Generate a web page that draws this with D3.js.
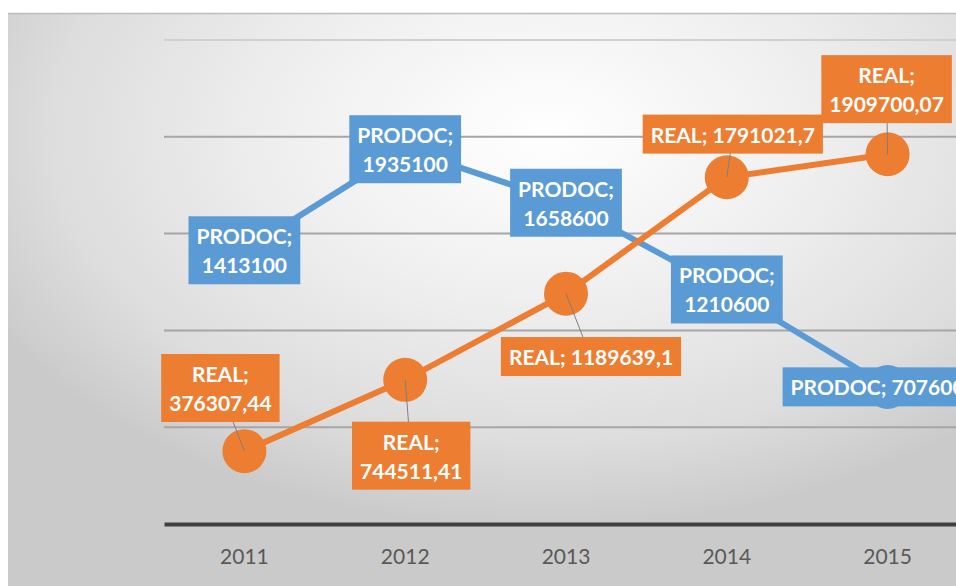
<!DOCTYPE html>
<html>
<head>
<meta charset="utf-8">
<script src="https://cdn.jsdelivr.net/npm/d3@7"></script>
<style>
  body { margin: 0; background: #fff; overflow: hidden; }
  svg { display: block; }
</style>
</head>
<body>
<div id="container"></div>
<script>
/* DATA */
const years = ["2011", "2012", "2013", "2014", "2015"];
const prodoc = [1413100, 1935100, 1658600, 1210600, 707600];
const real = [376307.44, 744511.41, 1189639.1, 1791021.7, 1909700.07];
const gridTicks = [0, 500000, 1000000, 1500000, 2000000, 2500000];

/* CONSTANTS AND GLOBALS */
const width = 956,
  height = 586;
const plot = { left: 164, right: 968, top: 40, bottom: 524 };
const BLUE = "#5B9BD5", ORANGE = "#ED7D31";

// label layout: offset of box centre from the point, and whether text wraps
const prodocLayout = [
  { dx: 0, dy: 1, wrap: true },
  { dx: 0, dy: 1, wrap: true },
  { dx: 0, dy: 1, wrap: true },
  { dx: 0, dy: 1, wrap: true },
  { dx: -10, dy: 1, wrap: false }
];
const realLayout = [
  { dx: -24, dy: -62, wrap: true },
  { dx: 6, dy: 77, wrap: true },
  { dx: 25, dy: 64, wrap: false },
  { dx: 6, dy: -42, wrap: false },
  { dx: -1, dy: -64, wrap: true }
];

const svg = d3.select("#container")
  .append("svg")
  .attr("width", width)
  .attr("height", height);

// BACKGROUND
const defs = svg.append("defs");
const grad = defs.append("radialGradient")
  .attr("id", "bg")
  .attr("cx", 0.56).attr("cy", 0.2).attr("r", 0.66);
grad.append("stop").attr("offset", 0).attr("stop-color", "#ffffff");
grad.append("stop").attr("offset", 0.42).attr("stop-color", "#efefef");
grad.append("stop").attr("offset", 0.78).attr("stop-color", "#dddddd");
grad.append("stop").attr("offset", 1).attr("stop-color", "#cacaca");

svg.append("rect")
  .attr("x", 8).attr("y", 13)
  .attr("width", 960).attr("height", 600)
  .attr("fill", "url(#bg)");
svg.append("line")
  .attr("x1", 8).attr("x2", 960)
  .attr("y1", 13.5).attr("y2", 13.5)
  .attr("stroke", "#bdbdbd").attr("stroke-width", 1.5);

// SCALES
const xScale = d3.scaleBand()
  .domain(years)
  .range([plot.left, plot.right]);
const xPos = d => xScale(d) + xScale.bandwidth() / 2;

const yScale = d3.scaleLinear()
  .domain([0, 2500000])
  .range([plot.bottom, plot.top]);

// GRIDLINES
svg.append("g")
  .selectAll("line")
  .data(gridTicks.slice(1))
  .join("line")
  .attr("x1", plot.left).attr("x2", plot.right)
  .attr("y1", d => yScale(d)).attr("y2", d => yScale(d))
  .attr("stroke", (d, i) => i === gridTicks.length - 2 ? "#d0d0d0" : "#a6a6a6")
  .attr("stroke-width", 2);

// X AXIS
const xAxis = d3.axisBottom(xScale).tickSize(0).tickPadding(25);
const xg = svg.append("g")
  .attr("transform", `translate(0,${plot.bottom})`)
  .call(xAxis);
xg.select(".domain").attr("stroke", "#404040").attr("stroke-width", 4);
xg.selectAll("text")
  .attr("fill", "#595959")
  .attr("font-family", "Lato, 'Open Sans', sans-serif")
  .attr("font-size", 21);

// LINES
const lineGen = d3.line()
  .x((d, i) => xPos(years[i]))
  .y(d => yScale(d));

const series = [
  { name: "PRODOC", values: prodoc, color: BLUE, layout: prodocLayout },
  { name: "REAL", values: real, color: ORANGE, layout: realLayout }
];

series.forEach(s => {
  svg.append("path")
    .attr("d", lineGen(s.values))
    .attr("fill", "none")
    .attr("stroke", s.color)
    .attr("stroke-width", 6);
  svg.append("g")
    .selectAll("circle")
    .data(s.values)
    .join("circle")
    .attr("cx", (d, i) => xPos(years[i]))
    .attr("cy", d => yScale(d))
    .attr("r", 22)
    .attr("fill", s.color);
});

// DATA LABELS
const fmt = v => String(v).replace(".", ",");
const lineH = 29;

series.forEach(s => {
  s.values.forEach((v, i) => {
    const px = xPos(years[i]), py = yScale(v);
    const lay = s.layout[i];
    const cx = px + lay.dx, cy = py + lay.dy;
    const lines = lay.wrap ? [s.name + ";", fmt(v)] : [s.name + "; " + fmt(v)];

    const g = svg.append("g");
    if (s.name === "REAL") {
      g.append("line")
        .attr("x1", px).attr("y1", py)
        .attr("x2", cx).attr("y2", cy)
        .attr("stroke", "#7f7f7f").attr("stroke-width", 1);
    }
    const box = g.append("rect").attr("fill", s.color);
    const txt = g.append("text")
      .attr("text-anchor", "middle")
      .attr("fill", "#fff")
      .attr("font-family", "Lato, 'Open Sans', sans-serif")
      .attr("font-weight", "bold")
      .attr("font-size", 21);
    lines.forEach((t, k) => {
      txt.append("tspan")
        .attr("x", cx)
        .attr("y", cy + (k - (lines.length - 1) / 2) * lineH)
        .attr("dy", "0.35em")
        .text(t);
    });
    const bb = txt.node().getBBox();
    const padX = 8, padY = 7;
    box.attr("x", bb.x - padX)
      .attr("y", bb.y - padY)
      .attr("width", bb.width + 2 * padX)
      .attr("height", bb.height + 2 * padY);
  });
});
</script>
</body>
</html>
